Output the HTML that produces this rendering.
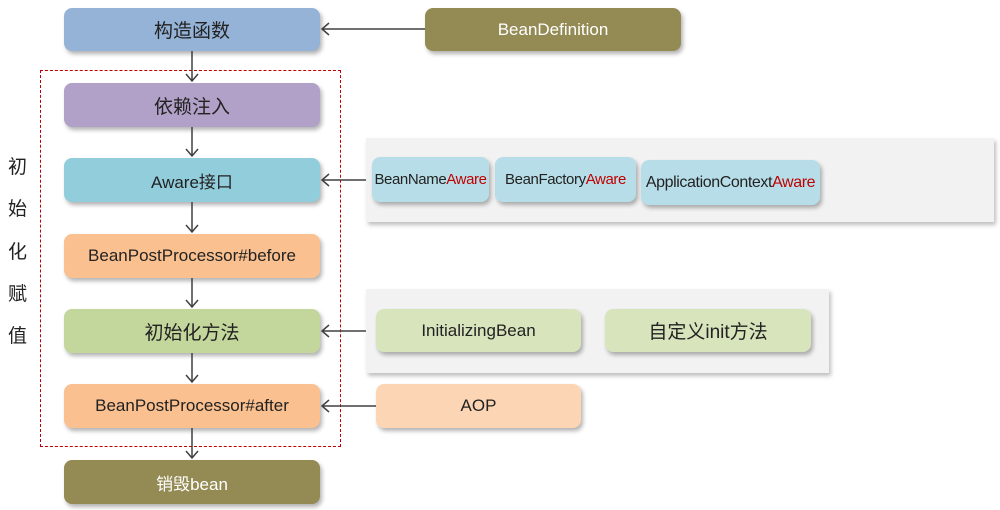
<!DOCTYPE html>
<html><head><meta charset="utf-8"><style>
body{margin:0;width:1000px;height:510px;background:#fff;position:relative;overflow:hidden;font-family:"Liberation Sans","Noto Sans CJK SC",sans-serif;}
.b{position:absolute;border-radius:8px;display:flex;align-items:center;justify-content:center;color:#222;font-size:17px;box-shadow:2px 3px 4px rgba(0,0,0,0.3);white-space:nowrap;}
.s{font-size:15px;letter-spacing:-0.4px}
.p{position:absolute;background:#f2f2f2;box-shadow:2px 3px 4px rgba(0,0,0,0.25);}
.r{color:#c00000}
.v{position:absolute;left:8px;font-size:19px;color:#222}
</style></head><body>
<div style="position:absolute;left:40px;top:70px;width:299px;height:375px;border:1.5px dashed #c00000"></div>
<div class="p" style="left:366px;top:138px;width:628px;height:84px"></div>
<div class="p" style="left:366px;top:289px;width:463px;height:84px"></div>
<div class="b" style="left:64px;top:8px;width:256px;height:43px;background:#94b3d7;font-size:19px">构造函数</div>
<div class="b" style="left:425px;top:8px;width:256px;height:43px;background:#948a54;color:#fff">BeanDefinition</div>
<div class="b" style="left:64px;top:83px;width:256px;height:44px;background:#b1a0c7;font-size:19px">依赖注入</div>
<div class="b" style="left:64px;top:158px;width:256px;height:44px;background:#92cddc">Aware接口</div>
<div class="b" style="left:64px;top:234px;width:256px;height:44px;background:#fac08f">BeanPostProcessor#before</div>
<div class="b" style="left:64px;top:309px;width:256px;height:44px;background:#c3d69b;font-size:19px">初始化方法</div>
<div class="b" style="left:64px;top:384px;width:256px;height:44px;background:#fac08f">BeanPostProcessor#after</div>
<div class="b" style="left:64px;top:460px;width:256px;height:44px;background:#948a54;color:#fff">销毁bean</div>
<div class="b s" style="left:372px;top:157px;width:117px;height:45px;background:#b7dee8">BeanName<span class="r">Aware</span></div>
<div class="b s" style="left:495px;top:157px;width:141px;height:45px;background:#b7dee8">BeanFactory<span class="r">Aware</span></div>
<div class="b" style="left:641px;top:160px;width:179px;height:45px;background:#b7dee8;font-size:16px;letter-spacing:-0.4px">ApplicationContext<span class="r">Aware</span></div>
<div class="b" style="left:376px;top:309px;width:205px;height:43px;background:#d7e4bc">InitializingBean</div>
<div class="b" style="left:605px;top:309px;width:206px;height:43px;background:#d7e4bc;font-size:19px">自定义init方法</div>
<div class="b" style="left:376px;top:384px;width:205px;height:44px;background:#fcd5b4">AOP</div>
<div class="v" style="top:152px">初</div><div class="v" style="top:194px">始</div><div class="v" style="top:237px">化</div><div class="v" style="top:279px">赋</div><div class="v" style="top:321px">值</div>
<svg width="1000" height="510" style="position:absolute;left:0;top:0">
<g stroke="#404040" stroke-width="1.5" fill="none">
<path d="M192 51V81M186 74l6 7 6-7"/>
<path d="M192 127V156M186 149l6 7 6-7"/>
<path d="M192 202V232M186 225l6 7 6-7"/>
<path d="M192 278V307M186 300l6 7 6-7"/>
<path d="M192 353V382M186 375l6 7 6-7"/>
<path d="M192 428V458M186 451l6 7 6-7"/>
<path d="M425 29H322M329 23l-7 6 7 6"/>
<path d="M366 180H322M329 174l-7 6 7 6"/>
<path d="M366 331H322M329 325l-7 6 7 6"/>
<path d="M376 406H322M329 400l-7 6 7 6"/>
</g></svg>
</body></html>
